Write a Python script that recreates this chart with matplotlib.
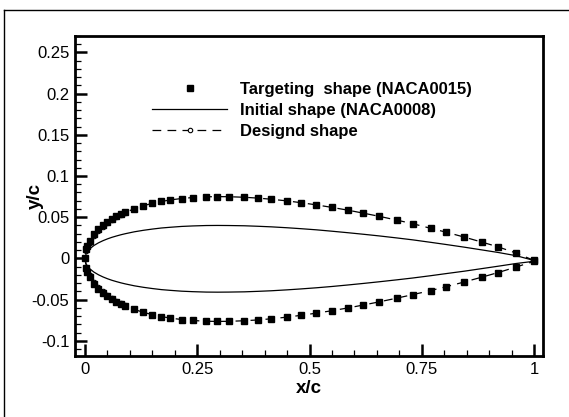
import matplotlib
matplotlib.use("Agg")
import matplotlib.pyplot as plt
from matplotlib.lines import Line2D
from matplotlib.ticker import FixedLocator, MultipleLocator

plt.rcParams['font.family'] = ['Liberation Sans', 'DejaVu Sans']
plt.rcParams['axes.unicode_minus'] = False

# ---------------- data ----------------
x_pts = [0, 0.0025, 0.005, 0.01, 0.02, 0.03, 0.04, 0.05, 0.06, 0.07, 0.08, 0.09,
         0.11, 0.13, 0.15, 0.17, 0.19, 0.215, 0.24, 0.27, 0.295, 0.32, 0.355,
         0.385, 0.415, 0.45, 0.48, 0.515, 0.55, 0.585, 0.62, 0.655, 0.695, 0.73,
         0.77, 0.805, 0.845, 0.885, 0.92, 0.96, 1.0]

target_upper = [0, 0.0109, 0.0153, 0.0213, 0.0295, 0.0355, 0.0403, 0.0444, 0.0480,
                0.0511, 0.0538, 0.0563, 0.0605, 0.0640, 0.0668, 0.0691, 0.0710,
                0.0727, 0.0739, 0.0748, 0.0750, 0.0749, 0.0742, 0.0732, 0.0718,
                0.0698, 0.0677, 0.0650, 0.0619, 0.0586, 0.0549, 0.0511, 0.0464,
                0.0421, 0.0365, 0.0317, 0.0258, 0.0196, 0.0140, 0.0065, -0.0025]
target_lower = [0, -0.0122, -0.0167, -0.0228, -0.0310, -0.0370, -0.0418, -0.0459,
                -0.0495, -0.0526, -0.0553, -0.0578, -0.0620, -0.0655, -0.0683,
                -0.0706, -0.0725, -0.0742, -0.0754, -0.0763, -0.0765, -0.0764,
                -0.0757, -0.0747, -0.0733, -0.0713, -0.0692, -0.0665, -0.0635,
                -0.0602, -0.0566, -0.0528, -0.0482, -0.0440, -0.0390, -0.0343,
                -0.0286, -0.0226, -0.0172, -0.0105, -0.0035]

initial_upper = [0, 0.0058, 0.0081, 0.0114, 0.0157, 0.0189, 0.0215, 0.0237, 0.0256,
                 0.0272, 0.0287, 0.0300, 0.0323, 0.0341, 0.0356, 0.0369, 0.0378,
                 0.0388, 0.0394, 0.0399, 0.0400, 0.0399, 0.0396, 0.0390, 0.0383,
                 0.0372, 0.0361, 0.0347, 0.0330, 0.0312, 0.0293, 0.0273, 0.0248,
                 0.0225, 0.0195, 0.0168, 0.0136, 0.0102, 0.0072, 0.0033, -0.0025]
initial_lower = [0, -0.0068, -0.0091, -0.0124, -0.0167, -0.0199, -0.0225, -0.0247,
                 -0.0266, -0.0282, -0.0297, -0.0310, -0.0333, -0.0351, -0.0366,
                 -0.0379, -0.0388, -0.0398, -0.0404, -0.0409, -0.0410, -0.0409,
                 -0.0406, -0.0400, -0.0393, -0.0382, -0.0371, -0.0357, -0.0341,
                 -0.0323, -0.0304, -0.0284, -0.0260, -0.0238, -0.0210, -0.0184,
                 -0.0155, -0.0123, -0.0095, -0.0062, -0.0035]

design_upper = [0, 0.0095, 0.0135, 0.0190, 0.0270, 0.0330, 0.0380, 0.0425, 0.0463,
                0.0497, 0.0528, 0.0556, 0.0605, 0.0640, 0.0668, 0.0691, 0.0710,
                0.0727, 0.0739, 0.0748, 0.0750, 0.0749, 0.0742, 0.0732, 0.0718,
                0.0698, 0.0677, 0.0650, 0.0619, 0.0586, 0.0549, 0.0511, 0.0464,
                0.0421, 0.0365, 0.0317, 0.0258, 0.0196, 0.0140, 0.0065, -0.0025]
design_lower = [0, -0.0108, -0.0150, -0.0205, -0.0285, -0.0345, -0.0395, -0.0440,
                -0.0478, -0.0512, -0.0543, -0.0571, -0.0620, -0.0655, -0.0683,
                -0.0706, -0.0725, -0.0742, -0.0754, -0.0763, -0.0765, -0.0764,
                -0.0757, -0.0747, -0.0733, -0.0713, -0.0692, -0.0665, -0.0635,
                -0.0602, -0.0566, -0.0528, -0.0482, -0.0440, -0.0390, -0.0343,
                -0.0286, -0.0226, -0.0172, -0.0105, -0.0035]

labels = ["Targeting  shape (NACA0015)", "Initial shape (NACA0008)", "Designd shape"]
x_ticks = [0, 0.25, 0.5, 0.75, 1]
x_tick_labels = ["0", "0.25", "0.5", "0.75", "1"]
y_ticks = [-0.1, -0.05, 0, 0.05, 0.1, 0.15, 0.2, 0.25]
y_tick_labels = ["-0.1", "-0.05", "0", "0.05", "0.1", "0.15", "0.2", "0.25"]

# ---------------- figure ----------------
W, H = 569, 417
fig = plt.figure(figsize=(W / 100, H / 100), dpi=100)
ax = fig.add_axes([75 / W, 1 - 356 / H, (543 - 75) / W, (356 - 36) / H])

# closed contours (upper from TE to LE, then lower LE to TE)
def contour(up, lo):
    xs = list(reversed(x_pts)) + x_pts[1:]
    ys = list(reversed(up)) + lo[1:]
    return xs, ys

xi, yi = contour(initial_upper, initial_lower)
ax.plot(xi, yi, color='black', lw=0.9, solid_joinstyle='round')

xd, yd = contour(design_upper, design_lower)
ld, = ax.plot(xd, yd, color='black', lw=0.9, marker='o', ms=3.2,
              mfc='white', mec='black', mew=0.8)
ld.set_dashes((7, 5))

xt, yt = contour(target_upper, target_lower)
ax.plot(xt, yt, ls='none', marker='s', ms=4.2, color='black')

ax.set_xlim(-0.0223, 1.020)
ax.set_ylim(-0.1185, 0.270)

ax.xaxis.set_major_locator(FixedLocator(x_ticks))
ax.set_xticklabels(x_tick_labels)
ax.xaxis.set_minor_locator(MultipleLocator(0.05))
ax.yaxis.set_major_locator(FixedLocator(y_ticks))
ax.set_yticklabels(y_tick_labels)
ax.yaxis.set_minor_locator(MultipleLocator(0.01))

ax.tick_params(which='major', direction='in', length=8.5, width=1.8,
               labelsize=12, top=False, right=False, pad=4)
ax.tick_params(which='minor', direction='in', length=4.5, width=0.9,
               top=False, right=False)
for s in ax.spines.values():
    s.set_linewidth(2.0)

ax.set_xlabel("x/c", fontsize=13.5, fontweight='bold', labelpad=2.5)
ax.set_ylabel("y/c", fontsize=13.5, fontweight='bold', labelpad=-9)

# legend
h1 = Line2D([], [], ls='none', marker='s', ms=4.2, color='black')
h2 = Line2D([], [], color='black', lw=0.9)
h3 = Line2D([], [], color='black', lw=0.9, marker='o', ms=3.2, mfc='white',
            mec='black', mew=0.8)
h3.set_dashes((7, 5))
leg = ax.legend([h1, h2, h3], labels, loc='upper left',
                bbox_to_anchor=(152 / W, 1 - 82 / H), bbox_transform=fig.transFigure,
                frameon=False, numpoints=1, handlelength=4.5, handletextpad=0.8,
                labelspacing=0.36, borderpad=0, borderaxespad=0,
                prop={'size': 12, 'weight': 'bold'})

# outer frame lines (top and left)
fig.add_artist(Line2D([3.5 / W, 3.5 / W], [0, 1 - 10 / H], transform=fig.transFigure,
                      color='black', lw=1.0))
fig.add_artist(Line2D([3.5 / W, 1], [1 - 10 / H, 1 - 10 / H], transform=fig.transFigure,
                      color='black', lw=1.0))

fig.savefig("out.png", dpi=100)
